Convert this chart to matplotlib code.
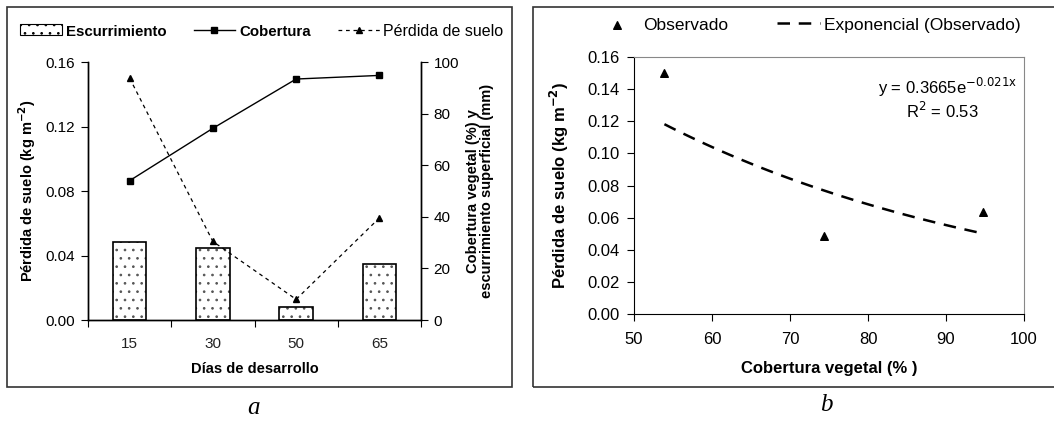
import numpy as np
import matplotlib
matplotlib.use("Agg")
import matplotlib.pyplot as plt
from matplotlib.patches import Rectangle
from matplotlib.lines import Line2D

plt.rcParams['font.family'] = ['Liberation Sans', 'DejaVu Sans']
plt.rcParams['hatch.linewidth'] = 0.7

# ---- data panel a ----
dias = ["15", "30", "50", "65"]
escurrimiento = [30.1, 27.8, 4.9, 21.8]          # mm (right axis)
cobertura = [54.0, 74.3, 93.4, 94.8]             # % (right axis)
perdida = [0.150, 0.0487, 0.0128, 0.0633]        # kg m-2 (left axis)

# ---- data panel b ----
obs_x = [53.9, 74.3, 94.7]
obs_y = [0.150, 0.0487, 0.0633]
fit_a = 0.3665
fit_b = -0.021

W, H = 1054, 423
fig = plt.figure(figsize=(W / 100, H / 100), dpi=100)

def fx(px):
    return px / W

def fy(py):
    return 1 - py / H

# outer boxes
fig.patches.append(Rectangle((fx(7), fy(387)), fx(512) - fx(7), fy(7) - fy(387),
                             transform=fig.transFigure, fill=False, ec='#333333', lw=1.2))
fig.patches.append(Rectangle((fx(533), fy(387)), fx(1060) - fx(533), fy(7) - fy(387),
                             transform=fig.transFigure, fill=False, ec='#333333', lw=1.2))

tick_a = 11
lab_a = 10.5
tick_b = 12
lab_b = 12

# ================= panel a =================
axa = fig.add_axes([fx(88), fy(320), fx(421) - fx(88), fy(62) - fy(320)])
axb2 = axa.twinx()
x = np.arange(len(dias))

axb2.bar(x, escurrimiento, width=0.4, color='white', edgecolor='#555555', lw=0,
         hatch='..', zorder=1)
axb2.bar(x, escurrimiento, width=0.4, fill=False, edgecolor='black', lw=1.2, zorder=2)
axb2.plot(x, cobertura, color='black', lw=1, marker='s', ms=5, zorder=3)
axb2.set_ylim(0, 100)
axb2.set_yticks([0, 20, 40, 60, 80, 100])

axa.plot(x, perdida, color='black', lw=0.9, ls=(0, (3, 3)), marker='^', ms=5, zorder=4)
axa.set_zorder(axb2.get_zorder() + 1)
axa.patch.set_visible(False)
axa.set_ylim(0, 0.16)
axa.set_yticks([0, 0.04, 0.08, 0.12, 0.16])
axa.set_yticklabels(["0.00", "0.04", "0.08", "0.12", "0.16"])
axa.set_xlim(-0.5, len(dias) - 0.5)
axa.set_xticks(np.arange(-0.5, len(dias), 1.0))
axa.set_xticklabels([])
axa.set_xticks(x, minor=True)
axa.set_xticklabels(dias, minor=True)
axa.tick_params(axis='x', which='minor', length=0, pad=12, labelsize=tick_a, colors='#222222')
axa.tick_params(axis='x', which='major', length=5, direction='out')
axa.tick_params(axis='y', length=5, direction='out', labelsize=tick_a, pad=4)
axb2.tick_params(axis='y', length=5, direction='out', labelsize=tick_a, pad=4)
for ax in (axa, axb2):
    ax.spines['top'].set_visible(False)
    for s in ('left', 'right', 'bottom'):
        ax.spines[s].set_linewidth(1.0)

axa.set_xlabel("Días de desarrollo", fontsize=lab_a, fontweight='bold', labelpad=8)
axa.set_ylabel("Pérdida de suelo (kg m$^{\\mathbf{-2}}$)", fontsize=lab_a, fontweight='bold', labelpad=6)
axb2.set_ylabel("Cobertura vegetal (%) y\nescurrimiento superficial (mm)", fontsize=lab_a,
                fontweight='bold', labelpad=5, linespacing=1.05)

handles_a = [
    Rectangle((0, 0), 1, 1, facecolor='white', edgecolor='black', hatch='..', lw=0.8),
    Line2D([], [], color='black', lw=1, marker='s', ms=5),
    Line2D([], [], color='black', lw=0.9, ls=(0, (3, 3)), marker='^', ms=5),
]
leg_a = fig.legend(handles_a, ["Escurrimiento", "Cobertura", "Pérdida de suelo"],
                   loc='center', bbox_to_anchor=(fx(262), fy(31)), ncol=3, frameon=False,
                   handlelength=2.6, handletextpad=0.25, columnspacing=1.7,
                   prop={'size': 11.5})
for t in leg_a.get_texts()[:2]:
    t.set_fontweight('bold')
    t.set_fontsize(10.8)

fig.text(fx(253), fy(408), "a", fontsize=18, style='italic', family='Liberation Serif',
         ha='center', va='center')

# ================= panel b =================
axc = fig.add_axes([fx(634), fy(314), fx(1024) - fx(634), fy(57) - fy(314)])
axc.scatter(obs_x, obs_y, marker='^', s=30, color='black', zorder=3, label="Observado")
xf = np.linspace(min(obs_x), max(obs_x), 100)
axc.plot(xf, fit_a * np.exp(fit_b * xf), color='black', lw=1.8, ls=(0, (5, 3.5)),
         label="Exponencial (Observado)")
axc.set_xlim(50, 100)
axc.set_ylim(0, 0.16)
axc.set_xticks([50, 60, 70, 80, 90, 100])
yt = np.round(np.arange(0, 0.161, 0.02), 2)
axc.set_yticks(yt)
axc.set_yticklabels([f"{v:.2f}" for v in yt])
axc.tick_params(axis='x', length=5, direction='out', labelsize=tick_b, pad=8)
axc.tick_params(axis='y', length=5, direction='out', labelsize=tick_b, pad=5)
axc.spines['top'].set_color('#888888')
axc.spines['right'].set_color('#888888')
axc.set_xlabel("Cobertura vegetal (% )", fontsize=lab_b, fontweight='bold', labelpad=10)
axc.set_ylabel("Pérdida de suelo (kg m$^{\\mathbf{-2}}$)", fontsize=lab_b, fontweight='bold', labelpad=12)
axc.text(0.982, 0.883, "y = 0.3665e$^{\\mathrm{-0.021x}}$", transform=axc.transAxes, ha='right',
         va='center', fontsize=12)
axc.text(0.79, 0.79, "R$^{\\mathrm{2}}$ = 0.53", transform=axc.transAxes, ha='center',
         va='center', fontsize=12)

h, l = axc.get_legend_handles_labels()
fig.legend(h, l, loc='center', bbox_to_anchor=(fx(808), fy(25)), ncol=2, frameon=False,
           fontsize=12.5, handlelength=2.5, handletextpad=0.25, columnspacing=2.8)

fig.text(fx(826), fy(405), "b", fontsize=18, style='italic', family='Liberation Serif',
         ha='center', va='center')

fig.savefig("out.png", dpi=100)
